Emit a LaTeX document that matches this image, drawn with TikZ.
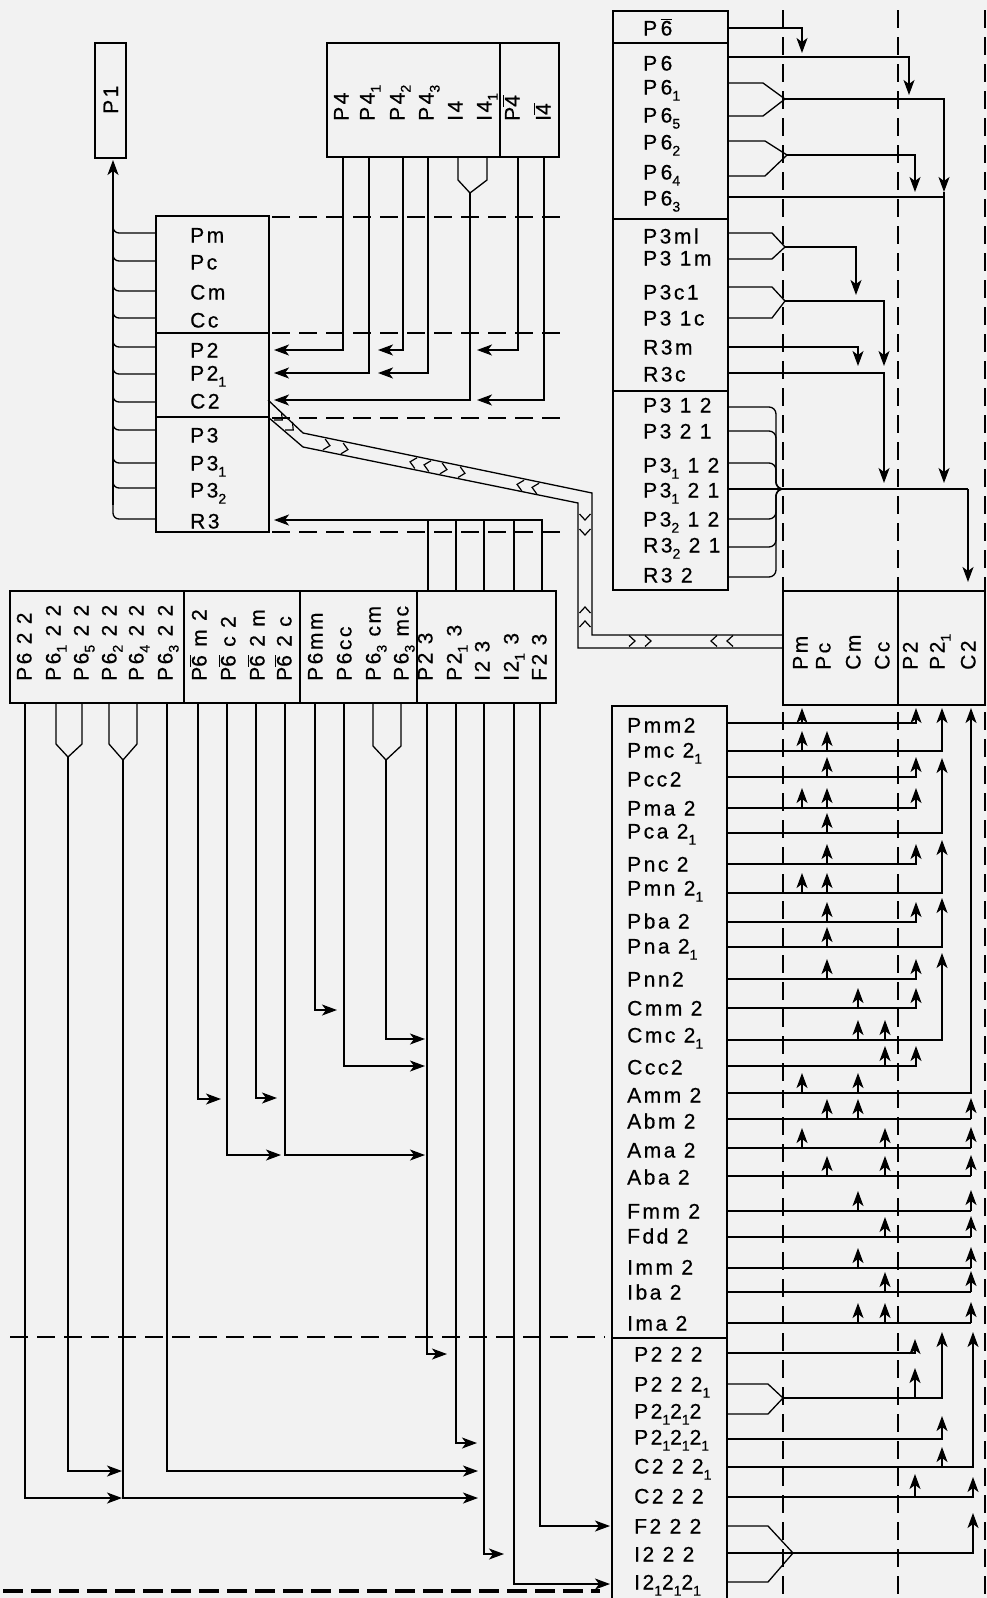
\documentclass[tikz,border=0pt]{standalone}
\usepackage{fontspec}
\setmainfont{Liberation Sans}[LetterSpace=12,FakeBold=0.6]
\usetikzlibrary{arrows.meta}
\newcommand\sbs[1]{\raisebox{-0.55ex}{\fontsize{14}{14}\selectfont #1}}
\newcommand\obar[1]{$\overline{\mbox{#1}}$}
\newcommand\chev[3]{\draw[chevst,shift={(#1,#2)},rotate=#3] (-3,5.5) -- (3,0) -- (-3,-5.5);}
\begin{document}
\begin{tikzpicture}[x=1pt,y=-1pt,
  box/.style={draw=black,line width=2.6pt},
  ln/.style={line width=1.3pt},
  arr/.style={ln,-{Stealth[length=15pt,width=11pt,inset=4pt]}},
  dsh/.style={line width=1.4pt,dash pattern=on 18pt off 9pt},
  lab/.style={font=\fontsize{21}{23}\selectfont,inner sep=0pt,anchor=base west},
  rlab/.style={lab,rotate=90},
  chevst/.style={line width=1.2pt,line join=miter}]
\fill[black!5] (0,0) rectangle (987,1598);
\useasboundingbox (0,0) rectangle (987,1598);

% dashed guide lines
\foreach \x in {783,898,985} \draw[dsh] (\x,10) -- (\x,1598);
\foreach \y in {217,333,418,532} \draw[dsh] (272,\y) -- (560,\y);
\draw[dsh] (10,1337) -- (605,1337);
\draw[line width=4pt,dash pattern=on 20pt off 8pt] (3,1591) -- (600,1591);

% P1 box
\draw[box] (95,43) rectangle (126,158);
\node[rlab] (p1) at (118,114) {P1};

% P4 box
\draw[box] (327,43) rectangle (559,157);
\draw[box] (500,43) -- (500,157);
\foreach \t/\x [count=\i] in {P4/341, P4\sbs1/367, P4\sbs2/397, P4\sbs3/426, I4/455, I4\sbs1/484, P\obar4/512, I\obar4/543}
  \node[rlab] (q\i) at (\x+7.5,121) {\t};

% left box
\draw[box] (156,216) rectangle (269,532);
\draw[box] (156,333) -- (269,333);
\draw[box] (156,417) -- (269,417);
\foreach \t/\y [count=\i] in {Pm/235, Pc/262, Cm/292, Cc/320, P2/350, P2\sbs1/373, C2/401, P3/435, P3\sbs1/463, P3\sbs2/490, R3/521}
  \node[lab] (l\i) at (190,\y+7.5) {\t};

% bracket to P1
\draw[arr] (113,505) -- (113,160);
\foreach \y in {233,261,291,318,347,374,402,430,463,488}
  \draw[ln,rounded corners=6] (113,\y-12) |- (156,\y);
\draw[ln,rounded corners=6] (113,500) |- (156,519);

% P4 connectors
\draw[arr] (343,157) |- (274,350);
\draw[arr] (369,157) |- (274,373);
\draw[arr] (403,157) |- (378,350);
\draw[arr] (428,157) |- (378,373);
\draw[ln] (458,157) -- (458,180) -- (470,193);
\draw[ln] (487,157) -- (487,180) -- (470,193);
\draw[arr] (470,193) |- (274,400);
\draw[arr] (518,157) |- (477,350);
\draw[arr] (544,157) |- (477,400);

% R3 connector from cubic groups
\draw[arr] (542,591) |- (274,520);
\foreach \x in {428,456,484,514} \draw[ln] (\x,520) -- (\x,591);

% zigzag band
\draw[ln] (268,400) -- (303,433) -- (592,493) -- (592,635) -- (783,635);
\draw[ln] (268,417) -- (303,447) -- (578,503) -- (578,648) -- (783,648);
\chev{280}{418}{-42.4}
\chev{291}{428}{-42.4}
\chev{327}{445}{-11.6}
\chev{345}{449}{-11.6}
\chev{413}{462.5}{168.4}
\chev{427}{465.5}{168.4}
\chev{444}{469}{-11.6}
\chev{462}{472.7}{-11.6}
\chev{520}{485}{168.4}
\chev{535}{488}{168.4}
\chev{585}{517}{-90}
\chev{585}{532}{-90}
\chev{585}{610}{90}
\chev{585}{624}{90}
\chev{632}{641}{0}
\chev{648}{641}{0}
\chev{714}{641}{180}
\chev{730}{641}{180}

% right tall box
\draw[box] (613,11) rectangle (728,590);
\foreach \y in {43,219,391} \draw[box] (613,\y) -- (728,\y);
\foreach \t/\y [count=\i] in {P\,\obar6/28, P\,6/63, P\,6\sbs1/87, P\,6\sbs5/115, P\,6\sbs2/142, P\,6\sbs4/172, P\,6\sbs3/198,
  P3ml/236, P3 1m/258, P3c1/292, P3 1c/318, R3m/347, R3c/374,
  P3 1 2/405, P3 2 1/431, P3\sbs1 1 2/465, P3\sbs1 2 1/490, P3\sbs2 1 2/519, R3\sbs2 2 1/545, R3 2/575}
  \node[lab] (r\i) at (643,\y+7.5) {\t};

% P6 connectors
\draw[arr] (728,28) -| (802,53);
\draw[arr] (728,57) -| (909,95);
\draw[ln] (728,83) -- (763,83) -- (785,99);
\draw[ln] (728,116) -- (763,116) -- (785,99);
\draw[arr] (785,99) -| (944,192);
\draw[arr] (944,192) -- (944,483);
\draw[ln] (728,141) -- (765,141) -- (787,155);
\draw[ln] (728,176) -- (765,176) -- (787,155);
\draw[arr] (787,155) -| (915,192);
\draw[ln] (728,197) -- (944,197);

% P3 connectors
\draw[ln] (728,233) -- (772,233) -- (785,247);
\draw[ln] (728,259) -- (772,259) -- (785,247);
\draw[arr] (785,247) -| (856,295);
\draw[ln] (728,287) -- (772,287) -- (785,301);
\draw[ln] (728,318) -- (772,318) -- (785,301);
\draw[arr] (785,301) -| (884,366);
\draw[arr] (728,347) -| (858,366);
\draw[arr] (728,373) -| (884,483);
\foreach \y in {407,431,463,519,547,577}
  \draw[ln,rounded corners=7] (728,\y) -- (776,\y) -- (776,489) -- (790,489);
\draw[ln] (728,489) -- (790,489);
\draw[line width=2pt] (776,489) -- (968,489);
\draw[arr,line width=1.6pt] (968,489) -- (968,582);

% Pm / P2 box
\draw[box] (783,591) rectangle (985,705);
\draw[box] (898,591) -- (898,705);
\foreach \t/\x [count=\i] in {Pm/800, Pc/823, Cm/853, Cc/882, P2/910, P2\sbs1/937, C2/968}
  \node[rlab] (b\i) at (\x+7.5,670) {\t};

% bottom-left box
\draw[box] (10,591) rectangle (556,703);
\foreach \x in {184,300,417} \draw[box] (\x,591) -- (\x,703);
\foreach \t/\x [count=\i] in {P6 2 2/24, P6\sbs1 2 2/53, P6\sbs5 2 2/81, P6\sbs2 2 2/109, P6\sbs4 2 2/136, P6\sbs3 2 2/165,
  P\obar6 m 2/199, P\obar6 c 2/228, P\obar6 2 m/257, P\obar6 2 c/284,
  P6mm/315, P6cc/344, P6\sbs3 cm/373, P6\sbs3 mc/401,
  P2 3/425, P2\sbs1 3/454, I2 3/482, I2\sbs1 3/511, F2 3/539}
  \node[rlab] (h\i) at (\x+7.5,681) {\t};

% hexagonal connectors
\draw[arr] (25,703) |- (122,1498);
\draw[ln] (56,703) -- (56,744) -- (68,757);
\draw[ln] (82,703) -- (82,744) -- (68,757);
\draw[arr] (68,757) |- (122,1471);
\draw[ln] (109,703) -- (109,744) -- (123,760);
\draw[ln] (137,703) -- (137,744) -- (123,760);
\draw[arr] (123,760) |- (478,1498);
\draw[arr] (167,703) |- (478,1471);
\draw[arr] (198,703) |- (221,1099);
\draw[arr] (227,703) |- (281,1155);
\draw[arr] (256,703) |- (277,1098);
\draw[arr] (285,703) |- (425,1155);
\draw[arr] (315,703) |- (337,1010);
\draw[arr] (344,703) |- (425,1066);
\draw[ln] (373,703) -- (373,746) -- (386,760);
\draw[ln] (401,703) -- (401,746) -- (386,760);
\draw[arr] (386,760) |- (425,1039);
\draw[arr] (427,703) |- (447,1354);
\draw[arr] (456,703) |- (477,1443);
\draw[arr] (484,703) |- (504,1554);
\draw[arr] (514,703) |- (610,1584);
\draw[arr] (540,703) |- (610,1526);

% middle (orthorhombic) box
\draw[box] (612,1598) -- (612,706) -- (727,706) -- (727,1598);
\draw[box] (612,1338) -- (727,1338);
\foreach \t/\y [count=\i] in {Pmm2/725, Pmc 2\sbs1/750, Pcc2/779, Pma 2/808, Pca 2\sbs1/831, Pnc 2/864, Pmn 2\sbs1/888,
  Pba 2/921, Pna 2\sbs1/946, Pnn2/979, Cmm 2/1008, Cmc 2\sbs1/1035, Ccc2/1067, Amm 2/1095, Abm 2/1121, Ama 2/1150,
  Aba 2/1177, Fmm 2/1211, Fdd 2/1236, Imm 2/1267, Iba 2/1292, Ima 2/1323}
  \node[lab] (m\i) at (627,\y+7.5) {\t};
\foreach \t/\y [count=\i] in {P2 2 2/1354, P2 2 2\sbs1/1384, P2\sbs12\sbs12/1411, P2\sbs12\sbs12\sbs1/1437, C2 2 2\sbs1/1466,
  C2 2 2/1496, F2 2 2/1526, I2 2 2/1554, I2\sbs12\sbs12\sbs1/1582}
  \node[lab] (o\i) at (634,\y+7.5) {\t};

% row connectors (polar classes)
\draw[arr] (727,723) -| (916,708);
\foreach \y in {777,808,864,922,979,1008,1066} \draw[arr] (727,\y) -| (916,\y-20);
\draw[arr] (727,751) -| (942,708);
\draw[arr] (727,833) -| (942,758);
\draw[arr] (727,893) -| (942,840);
\draw[arr] (727,947) -| (942,898);
\draw[arr] (727,1040) -| (942,953);
\draw[arr] (727,1093) -| (971,708);
\foreach \y in {1119,1148,1176,1211,1237,1268,1292,1323} \draw[arr] (971,\y) -- (971,\y-21);
\foreach \y in {1119,1148,1176,1211,1237,1268,1292,1323} \draw[ln] (727,\y) -- (971,\y);
\draw[arr] (802,723) -- (802,708);
\foreach \x/\y in {802/751,827/751,827/777,802/808,827/808,827/833,827/864,802/893,827/893,827/922,827/947,827/979,
  858/1008,858/1040,885/1040,885/1066,802/1093,858/1093,827/1119,858/1119,802/1148,885/1148,827/1176,885/1176,
  858/1211,885/1237,858/1268,885/1292,858/1323,885/1323}
  \draw[arr] (\x,\y) -- (\x,\y-20);

% row connectors (222 classes)
\draw[arr] (727,1353) -| (915,1339);
\draw[ln] (727,1384) -- (768,1384) -- (783,1398);
\draw[ln] (727,1414) -- (768,1414) -- (783,1398);
\draw[arr] (783,1398) -| (942,1332);
\draw[arr] (915,1398) -- (915,1368);
\draw[arr] (727,1439) -| (942,1416);
\draw[arr] (727,1467) -| (973,1332);
\draw[arr] (942,1467) -- (942,1447);
\draw[arr] (727,1497) -| (973,1477);
\draw[arr] (915,1497) -- (915,1474);
\draw[ln] (727,1526) -- (768,1526) -- (793,1553);
\draw[ln] (727,1582) -- (768,1582) -- (793,1553);
\draw[ln] (727,1553) -- (793,1553);
\draw[arr] (793,1553) -| (973,1513);
\end{tikzpicture}
\end{document}
